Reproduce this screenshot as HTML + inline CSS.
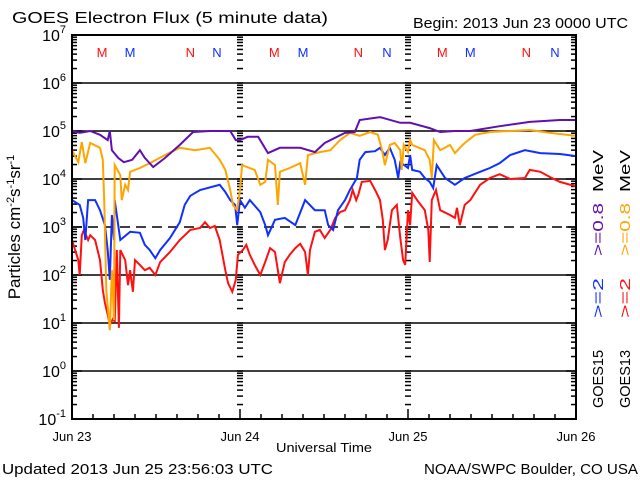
<!DOCTYPE html>
<html><head><meta charset="utf-8"><style>
body{margin:0;background:#fff;}
svg{display:block;font-family:"Liberation Sans",sans-serif;}
</style></head><body>
<svg id="chart" width="640" height="480" xmlns="http://www.w3.org/2000/svg">
<rect width="640" height="480" fill="#fff"/>
<text x="12" y="23" font-size="16" textLength="316" lengthAdjust="spacingAndGlyphs">GOES Electron Flux (5 minute data)</text>
<text x="413" y="28" font-size="15" textLength="215" lengthAdjust="spacingAndGlyphs">Begin: 2013 Jun 23 0000 UTC</text>
<text x="2" y="474" font-size="15" textLength="271" lengthAdjust="spacingAndGlyphs">Updated 2013 Jun 25 23:56:03 UTC</text>
<text x="424" y="474" font-size="15" textLength="214" lengthAdjust="spacingAndGlyphs">NOAA/SWPC Boulder, CO USA</text>
<text x="276" y="452" font-size="13" textLength="96" lengthAdjust="spacingAndGlyphs">Universal Time</text>
<text transform="translate(20,227) rotate(-90)" font-size="17" text-anchor="middle">Particles cm<tspan dy="-6" font-size="11">-2</tspan><tspan dy="6">s</tspan><tspan dy="-6" font-size="11">-1</tspan><tspan dy="6">sr</tspan><tspan dy="-6" font-size="11">-1</tspan></text>
<g id="grid"></g><g id="series"></g><g id="marks"></g>
<rect x="72" y="35" width="504" height="384" fill="none" stroke="#000" stroke-width="2"/>
<g font-size="15">
<text transform="translate(603,408) rotate(-90)" fill="#000" textLength="58" lengthAdjust="spacingAndGlyphs">GOES15</text>
<text transform="translate(603,318) rotate(-90)" fill="#1030ff" textLength="40" lengthAdjust="spacingAndGlyphs">&gt;=2</text>
<text transform="translate(603,256) rotate(-90)" fill="#6010b0" textLength="53" lengthAdjust="spacingAndGlyphs">&gt;=0.8</text>
<text transform="translate(603,192) rotate(-90)" fill="#000" textLength="42" lengthAdjust="spacingAndGlyphs">MeV</text>
<text transform="translate(630,408) rotate(-90)" fill="#000" textLength="58" lengthAdjust="spacingAndGlyphs">GOES13</text>
<text transform="translate(630,318) rotate(-90)" fill="#ff1010" textLength="40" lengthAdjust="spacingAndGlyphs">&gt;=2</text>
<text transform="translate(630,256) rotate(-90)" fill="#ffa500" textLength="53" lengthAdjust="spacingAndGlyphs">&gt;=0.8</text>
<text transform="translate(630,192) rotate(-90)" fill="#000" textLength="42" lengthAdjust="spacingAndGlyphs">MeV</text>
</g>
</svg>
<script>
const dayLabels=["Jun 23","Jun 24","Jun 25","Jun 26"];
const decades=[-1,0,1,2,3,4,5,6,7];
const markerHours=[4.3,8.3,16.9,20.7,28.9,33,40.9,45,52.9,56.9,64.9,69];
const markerText=["M","M","N","N","M","M","N","N","M","M","N","N"];
const markerColor=["#ff1010","#1030ff","#ff1010","#1030ff","#ff1010","#1030ff","#ff1010","#1030ff","#ff1010","#1030ff","#ff1010","#1030ff"];

const g15loT=[0,1.1,2.6,4,5.1,5.4,5.7,6.6,7.4,8.6,9.7,10.4,11.6,13.3,15.4,17.3,19.7,22.6,23.4,24,25.1,26.6,28,29.7,32.6,34.7,36.1,39,40.4,41.1,44,46.9,48.3,51.1,52.6,54.7,56.9,61.1,65.4,69.7,71.9];
const g15loV=[5.0,4.96,5.0,4.92,4.81,5.0,4.6,4.44,4.35,4.4,4.6,4.44,4.25,4.44,4.71,4.98,5.0,5.0,4.81,4.81,4.88,4.88,4.54,4.65,4.65,4.56,4.75,4.96,4.98,5.23,5.29,5.17,5.17,5.06,4.98,5.0,5.0,5.1,5.19,5.23,5.23];

const g13loT=[0,0.9,1.4,1.9,2.6,4,4.4,4.6,4.9,5.4,5.7,6,6.1,6.9,7.1,7.6,8,8.3,9.7,11.1,13.3,15.4,17.6,19.7,21.1,21.9,22.6,23,23.6,24,24.3,26.1,26.9,27.6,28,29,29.4,29.7,31.1,32.6,33.3,33.7,35.4,36.9,38.3,39.7,41.1,42.6,43.7,44.3,44.7,45.4,46.1,46.9,47.1,47.4,48,48.3,48.6,50.4,51.1,51.4,51.7,52.6,54,54.7,55.4,56.1,57.6,59.7,62.6,65.4,68.3,71.9];
const g13loV=[4.6,4.35,4.77,4.33,4.75,4.65,4.4,3.56,1.69,0.85,2.1,1.06,4.29,4.08,3.56,3.88,3.77,4.15,4.23,4.33,4.5,4.65,4.6,4.65,4.4,4.19,3.77,3.46,3.35,3.77,4.29,4.19,3.88,3.94,4.4,4.29,3.46,4.15,4.23,4.33,3.88,4.5,4.56,4.6,4.81,4.96,4.9,4.98,4.92,4.6,4.29,4.71,4.75,4.6,4.19,4.71,4.56,4.81,4.71,4.6,4.4,4.02,4.81,4.6,4.71,4.54,4.65,4.75,4.92,4.98,5.0,5.02,4.96,4.9];

const g15hiT=[0,1.1,1.6,1.9,2.3,3.3,4,4.7,5.1,5.4,5.7,6,6.1,6.4,6.9,8.3,9.7,10.4,11.1,11.9,12.6,14,15.4,16.1,16.9,18.3,21.1,21.9,22.6,23.3,23.6,24,24.7,25.4,26.9,27.6,28,29,30.4,31.9,33.3,34.7,36.1,36.6,37.3,38,39,39.7,40.7,41.1,41.9,43.3,44,44.7,45.4,46.1,46.6,46.9,48,48.3,48.6,49.7,50.4,51.1,51.6,52.1,53.3,54.7,56.1,58.3,59.7,61.1,62.6,64.7,66.9,69.7,71.9];
const g15hiV=[3.56,3.46,3.19,2.73,3.56,3.56,3.35,3.04,2.52,1.9,3.25,2.73,3.56,3.25,2.73,2.9,2.88,2.63,2.52,2.35,2.52,2.77,3.1,3.46,3.65,3.77,3.88,3.73,3.56,3.46,3.04,3.56,3.4,3.56,3.31,3.04,2.83,3.15,3.19,3.04,3.56,3.35,3.35,3.04,2.94,3.35,3.56,3.77,4.02,4.4,4.56,4.58,4.65,4.5,4.65,4.4,4.02,4.35,4.23,4.5,4.19,4.15,4.02,3.94,3.81,4.29,4.02,3.88,4.02,4.15,4.23,4.33,4.5,4.6,4.54,4.52,4.48];

const g13hiT=[0,0.9,1.1,1.4,1.7,2.3,2.6,3.3,4,4.4,4.7,5.1,5.4,5.9,6.1,6.4,6.7,6.9,7.6,8,8.3,8.7,9,9.7,10.4,11.1,11.9,12.6,14,15.4,16.9,18.3,19,19.7,20.4,21.1,21.9,22.3,22.9,23.4,23.7,24.4,24.9,25.4,26.1,26.9,27.6,28.3,29,29.7,30.4,31.1,31.9,32.6,33.3,33.7,34,34.7,35.4,36.1,36.9,37.6,38.3,39,39.7,40.1,40.6,40.9,41.4,42.6,43.3,44,44.4,44.7,45.1,45.7,46.4,46.9,47.3,47.6,48,48.3,48.6,49.3,50.4,50.9,51.1,51.4,52,52.6,54,54.7,55,55.4,56.1,56.9,58.3,59.7,61.1,62.6,64.7,65.4,66.9,68.3,69.7,71.9];
const g13hiV=[2.73,2.31,2.0,2.83,2.94,2.73,2.83,2.73,2.31,1.69,1.42,1.17,0.96,1.1,1.02,2.52,0.9,2.52,2.31,1.79,2.1,1.65,2.31,2.21,2.1,2.15,2.0,2.27,2.48,2.73,2.94,2.98,3.1,2.98,3.02,2.73,2.1,1.83,1.65,1.9,2.42,2.52,2.63,2.42,2.21,2.0,2.27,2.56,2.48,1.83,2.27,2.42,2.56,2.65,2.48,2.0,2.52,2.9,2.94,2.77,2.94,3.19,3.31,3.35,3.56,3.77,3.56,3.67,3.94,3.96,3.77,3.56,3.15,2.52,2.73,3.35,3.46,2.77,2.31,2.21,3.35,3.04,3.71,3.56,3.35,2.94,2.27,3.56,3.77,3.35,3.25,3.19,3.4,3.04,3.46,3.56,3.88,4.02,4.1,4.0,4.02,4.19,4.15,4.04,3.94,3.85];

const NS="http://www.w3.org/2000/svg";
const X0=72,X1=576,Y0=419,Y1=35;
function xs(h){return X0+(X1-X0)*h/72;}
function ys(l){return Y0-(Y0-Y1)*(l+1)/8;}
function mk(tag,attrs,parent){const e=document.createElementNS(NS,tag);for(const k in attrs)e.setAttribute(k,attrs[k]);parent.appendChild(e);return e;}
const grid=document.getElementById('grid'),series=document.getElementById('series'),marks=document.getElementById('marks');

decades.forEach(d=>{
  const y=ys(d);
  if(d>-1&&d<7){
    const ln=mk('line',{x1:X0,x2:X1,y1:y,y2:y,stroke:'#000','stroke-width':1.5},grid);
    if(d===3)ln.setAttribute('stroke-dasharray','10,6');
    
    
  }
  const t=mk('text',{x:66,y:y+6,'font-size':16,'text-anchor':'end'},grid);
  
  
  t.innerHTML='10<tspan dy="-8" font-size="11">'+(d<0?'-1':d)+'</tspan>';
  if(d<7){
    for(let m=1;m<10;m++){
      const yy=ys(d+Math.log10(m));
      const len=m===1?10:5;
      [[X0,X0+len],[X1-len,X1],[xs(24)-3,xs(24)+3],[xs(48)-3,xs(48)+3]].forEach(p=>{
        const tk=mk('line',{x1:p[0],x2:p[1],y1:yy,y2:yy,stroke:'#000','stroke-width':1.5},grid);
        
        
      });
    }
  }
});
dayLabels.forEach((lab,i)=>{
  const x=xs(i*24);
  const t=mk('text',{x:x,y:441,'font-size':13,'text-anchor':'middle'},grid);
  t.textContent=lab;
  
  
  for(let h=0;h<24&&i<3;h+=3){
    const tk=mk('line',{x1:xs(i*24+h),x2:xs(i*24+h),y1:Y0,y2:Y0-(h===0?10:5),stroke:'#000','stroke-width':1.5},grid);
    
    
  }
});
markerHours.forEach((h,i)=>{
  const t=mk('text',{x:xs(h),y:57,'font-size':13,'text-anchor':'middle',fill:markerColor[i]},marks);
  t.textContent=markerText[i];
  
  
});
function draw(T,V,color,name){
  let d='';
  const n=Math.min(T.length,V.length);
  for(let i=0;i<n;i++){d+=(i?'L':'M')+xs(T[i]).toFixed(1)+','+ys(V[i]).toFixed(1);}
  const p=mk('path',{d:d,fill:'none',stroke:color,'stroke-width':2,'stroke-linejoin':'miter'},series);
  
  
}
draw(g13hiT,g13hiV,'#ff1010','series-goes13-2mev');
draw(g15hiT,g15hiV,'#1030ff','series-goes15-2mev');
draw(g13loT,g13loV,'#ffa500','series-goes13-08mev');
draw(g15loT,g15loV,'#6010b0','series-goes15-08mev');
</script>
</body></html>
